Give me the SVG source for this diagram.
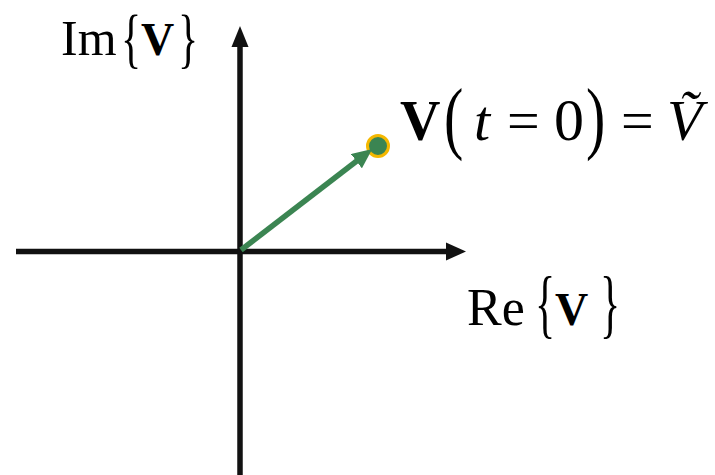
<svg xmlns="http://www.w3.org/2000/svg" width="715" height="475" viewBox="0 0 715 475">
<style>
.t{font-family:"Liberation Serif","Times New Roman",serif;fill:#000}
.b{font-weight:bold}
.i{font-style:italic}
.ax{stroke:#111;stroke-width:5.5;fill:none}
.ah{fill:#111}
</style>
<defs>
<marker id="ga" markerUnits="userSpaceOnUse" markerWidth="22" markerHeight="18" refX="2" refY="9" orient="auto">
<polygon points="0,0 20,9 0,18" fill="#3b8552"/>
</marker>
</defs>
<rect width="715" height="475" fill="#fff"/>
<g id="axes">
<line class="ax" x1="16" y1="251.5" x2="449" y2="251.5"/>
<polygon class="ah" points="446,242.5 466,251.5 446,260.5"/>
<line class="ax" x1="240" y1="475" x2="240" y2="44"/>
<polygon class="ah" points="231.5,47 240,26 248.5,47"/>
</g>
<g id="point">
<circle cx="378" cy="146" r="10.5" fill="#3b8552" stroke="#f5b800" stroke-width="3"/>
</g>
<g id="connectors">
<line x1="241" y1="250" x2="358" y2="160" stroke="#3b8552" stroke-width="5.5" marker-end="url(#ga)"/>
</g>
<g id="label-im">
<text class="t" x="61" y="55" font-size="50">Im</text>
<text class="t" transform="translate(121,43) scale(1,1.55)" x="0" y="10.8" font-size="42">{</text>
<text class="b t" x="141" y="55" font-size="46">V</text>
<text class="t" transform="translate(178,43) scale(1,1.55)" x="0" y="10.8" font-size="42">}</text>
</g>
<g id="label-re">
<text class="t" x="467" y="325" font-size="52">Re</text>
<text class="t" transform="translate(535,310) scale(1,1.8)" x="0" y="10.8" font-size="42">{</text>
<text class="b t" x="555" y="325" font-size="46">V</text>
<text class="t" transform="translate(600,310) scale(1,1.8)" x="0" y="10.8" font-size="42">}</text>
</g>
<g id="label-v">
<text class="b t" x="400" y="140" font-size="56">V</text>
<text class="t" transform="translate(444,124) scale(1,1.4)" x="0" y="14" font-size="58">(</text>
<text class="i t" x="474" y="140" font-size="58">t</text>
<text class="t" x="507" y="140" font-size="58">=</text>
<text class="t" x="554" y="140" font-size="60">0</text>
<text class="t" transform="translate(586,124) scale(1,1.4)" x="0" y="14" font-size="58">)</text>
<text class="t" x="621" y="140" font-size="58">=</text>
<text class="i t" x="667" y="140" font-size="58">Ṽ</text>
</g>
</svg>
